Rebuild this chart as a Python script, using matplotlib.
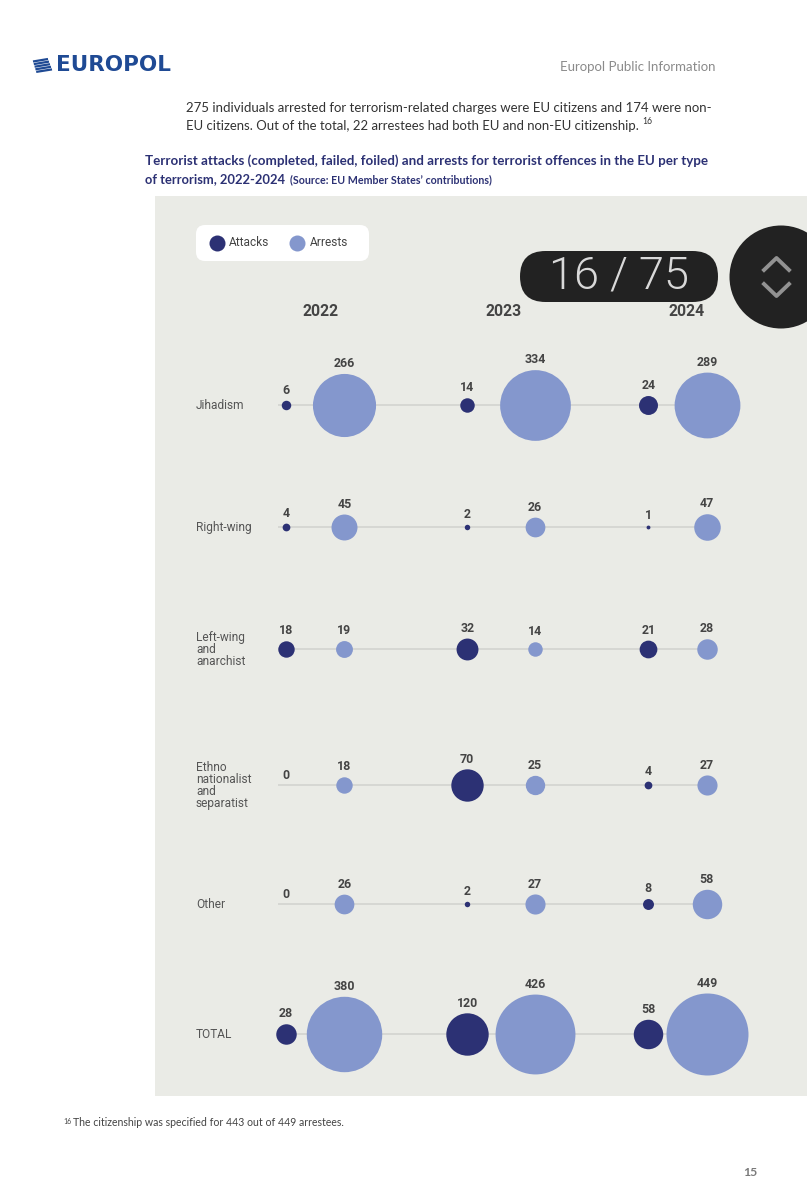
import numpy as np
import matplotlib
matplotlib.use("Agg")
import matplotlib.pyplot as plt
from matplotlib.patches import FancyBboxPatch, Rectangle, Ellipse

years = ["2022", "2023", "2024"]
categories = ["Jihadism", "Right-wing", "Left-wing\nand\nanarchist",
              "Ethno\nnationalist\nand\nseparatist", "Other", "TOTAL"]
attacks = [[6, 14, 24], [4, 2, 1], [18, 32, 21], [0, 70, 4], [0, 2, 8], [28, 120, 58]]
arrests = [[266, 334, 289], [45, 26, 47], [19, 14, 28], [18, 25, 27], [26, 27, 58], [380, 426, 449]]

NAVY = "#2c3174"
BLUE = "#8497cd"
BG = "#eaebe6"
LOGO = "#1f4a94"
DPI = 100

fig = plt.figure(figsize=(8.07, 12.0), dpi=DPI, facecolor="white")
ax = fig.add_axes([0, 0, 1, 1])
ax.set_xlim(0, 807)
ax.set_ylim(1200, 0)
ax.axis("off")

# Page header
for i in range(5):
    yy = 60 + i * 2.6
    ax.plot([33 + i * 0.8, 52 - (4 - i) * 1.0], [yy + 1.5, yy - 1.0], color=LOGO, lw=1.6,
            solid_capstyle="butt")
ax.text(56, 65, "EUROPOL", family="DejaVu Sans", weight="bold", fontsize=15.5,
        color=LOGO, va="center", ha="left")
ax.text(716, 67, "Europol Public Information", family="Lato", fontsize=9.5,
        color="#8b8b8b", va="center", ha="right")
ax.text(186, 108, "275 individuals arrested for terrorism-related charges were EU citizens and 174 were non-",
        family="Lato", fontsize=9.5, color="#333333", va="center")
ax.text(186, 126, "EU citizens. Out of the total, 22 arrestees had both EU and non-EU citizenship.",
        family="Lato", fontsize=9.45, color="#333333", va="center")
ax.text(642, 121, "16", family="Lato", fontsize=6.2, color="#333333", va="center")
ax.text(145, 161, "Terrorist attacks (completed, failed, foiled) and arrests for terrorist offences in the EU per type",
        family="Lato", weight="bold", fontsize=9.65, color=NAVY, va="center")
ax.text(145, 179, "of terrorism, 2022-2024", family="Lato", weight="bold", fontsize=9.3, color=NAVY, va="center")
ax.text(290, 179.5, "(Source: EU Member States’ contributions)", family="Lato", weight="bold",
        fontsize=7.7, color=NAVY, va="center")

# Chart panel
ax.add_patch(Rectangle((155, 196), 652, 900, facecolor=BG, edgecolor="none", zorder=0))

# Legend
ax.add_patch(FancyBboxPatch((196, 225), 173, 36, boxstyle="round,pad=0,rounding_size=9",
                            facecolor="white", edgecolor="none", zorder=1))
ax.scatter([217], [243], s=(16 * 72 / DPI) ** 2, color=NAVY, linewidths=0, zorder=3)
ax.scatter([297], [243], s=(16 * 72 / DPI) ** 2, color=BLUE, linewidths=0, zorder=3)
ax.text(229, 243, "Attacks", family="Roboto", fontsize=8.6, color="#444444", va="center", zorder=3)
ax.text(310, 243, "Arrests", family="Roboto", fontsize=8.6, color="#444444", va="center", zorder=3)

# Layout in pixels
attack_x = [285.7, 466.7, 647.7]
arrest_x = [344, 534.5, 706.5]
year_x = [320.5, 503.5, 686.5]
row_y = [404.7, 526.7, 648.7, 784.7, 903.7, 1033.7]
R_MAX = 41.0
V_MAX = 449.0


def radius(v):
    return R_MAX * np.sqrt(v / V_MAX)


for x, yr in zip(year_x, years):
    ax.text(x, 311, yr, family="Roboto", weight="bold", fontsize=11.3, color="#444444",
            ha="center", va="center", zorder=3)

for y, cat, att, arr in zip(row_y, categories, attacks, arrests):
    ax.plot([278, 707], [y, y], color="#d3d4d0", lw=1.2, zorder=1, solid_capstyle="butt")
    ax.text(196, y + 0.5, cat, family="Roboto", fontsize=8.6, color="#555555",
            va="center", ha="left", linespacing=0.9, zorder=3)
    for xa, xr, a, r in zip(attack_x, arrest_x, att, arr):
        for x, v, col in ((xa, a, NAVY), (xr, r, BLUE)):
            rad = radius(v)
            if v > 0:
                ax.scatter([x], [y], s=(2 * rad * 72 / DPI) ** 2, color=col, linewidths=0, zorder=2)
            ax.text(x + 0.5, y - rad - 9.5, str(v), family="Roboto", weight="bold", fontsize=8.9,
                    color="#444444", ha="center", va="center", zorder=3)

# Footnote and page number
ax.text(63, 1121, "16", family="Lato", fontsize=5, color="#444444", va="center")
ax.text(73, 1122, "The citizenship was specified for 443 out of 449 arrestees.", family="Lato",
        fontsize=7.6, color="#444444", va="center")
ax.text(757, 1172, "15", family="Lato", weight="bold", fontsize=8.8, color="#7a7a7a", va="center", ha="right")

# Page viewer overlay
ax.add_patch(FancyBboxPatch((520, 251), 198, 51, boxstyle="round,pad=0,rounding_size=25.5",
                            facecolor="#222222", edgecolor="none", zorder=5))
ax.text(619, 276, "16 / 75", family="Roboto", weight=300, fontsize=32.5, color="#d9d9d9",
        ha="center", va="center", zorder=6)
ax.add_patch(Ellipse((781, 277), 103, 103, facecolor="#222222", edgecolor="none", zorder=5))
ax.plot([764, 776.5, 789], [270, 258, 270], color="#929292", lw=2.8, zorder=6)
ax.plot([764, 776.5, 789], [284, 296, 284], color="#929292", lw=2.8, zorder=6)

fig.savefig("out.png", dpi=DPI, facecolor="white")
